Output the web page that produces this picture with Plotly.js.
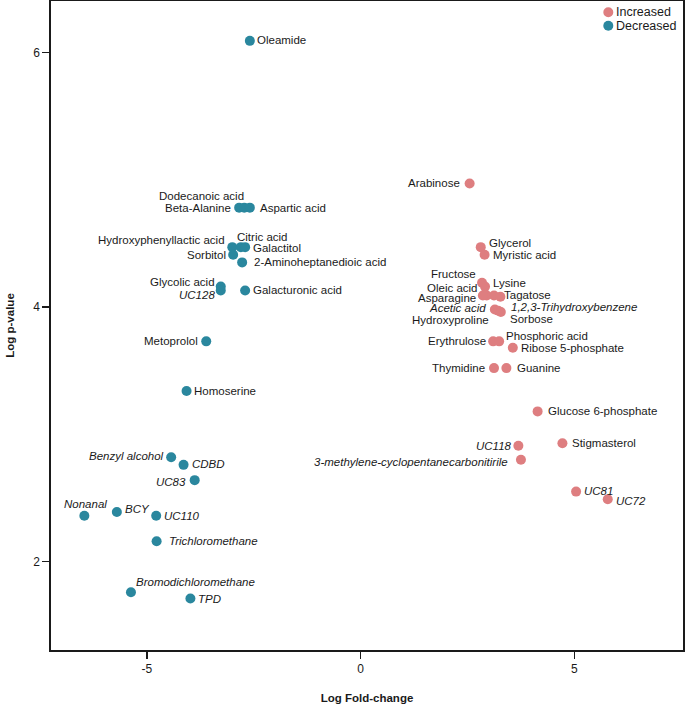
<!DOCTYPE html>
<html>
<head>
<meta charset="utf-8">
<script src="https://cdn.plot.ly/plotly-3.0.1.min.js"></script>
<style>
  html, body { margin: 0; padding: 0; background: #fff; }
  #chart { width: 685px; height: 704px; }
</style>
</head>
<body>
<div id="chart"></div>
<script>
// ---------- DATA ----------
const incNames = ["Arabinose", "Glycerol", "Myristic acid", "Fructose", "Lysine", "Oleic acid", "Asparagine",
  "1,2,3-Trihydroxybenzene", "Tagatose", "Acetic acid", "Hydroxyproline", "Sorbose", "Erythrulose",
  "Phosphoric acid", "Ribose 5-phosphate", "Thymidine", "Guanine", "Glucose 6-phosphate", "UC118",
  "Stigmasterol", "3-methylene-cyclopentanecarbonitirile", "UC81", "UC72"];
const incFC = [2.55, 2.81, 2.90, 2.84, 2.91, 2.95, 2.86, 3.12, 3.27, 3.14, 3.22, 3.28, 3.10,
  3.24, 3.56, 3.12, 3.41, 4.14, 3.69, 4.72, 3.75, 5.04, 5.78];
const incP = [4.97, 4.47, 4.41, 4.19, 4.16, 4.09, 4.09, 4.09, 4.08, 3.98, 3.97, 3.96, 3.73,
  3.73, 3.68, 3.52, 3.52, 3.18, 2.91, 2.93, 2.80, 2.55, 2.49];

const decNames = ["Oleamide", "Beta-Alanine", "Dodecanoic acid", "Aspartic acid", "Hydroxyphenyllactic acid",
  "Citric acid", "Galactitol", "Sorbitol", "2-Aminoheptanedioic acid", "Glycolic acid", "UC128",
  "Galacturonic acid", "Metoprolol", "Homoserine", "Benzyl alcohol", "CDBD", "UC83", "Nonanal", "BCY",
  "UC110", "Trichloromethane", "Bromodichloromethane", "TPD"];
const decFC = [-2.59, -2.84, -2.72, -2.59, -3.00, -2.80, -2.70, -2.98, -2.77, -3.27, -3.27,
  -2.70, -3.61, -4.07, -4.43, -4.14, -3.88, -6.46, -5.70, -4.78, -4.77, -5.37, -3.98];
const decP = [6.09, 4.78, 4.78, 4.78, 4.47, 4.47, 4.47, 4.41, 4.35, 4.16, 4.13,
  4.13, 3.73, 3.34, 2.82, 2.76, 2.64, 2.36, 2.39, 2.36, 2.16, 1.76, 1.71];

const seriesNames = ["Increased", "Decreased"];

const italicNames = ["UC128", "Benzyl alcohol", "CDBD", "UC83", "Nonanal", "BCY", "UC110", "Trichloromethane",
  "Bromodichloromethane", "TPD", "Acetic acid", "1,2,3-Trihydroxybenzene", "UC118",
  "3-methylene-cyclopentanecarbonitirile", "UC81", "UC72"];

// ---------- LABEL PLACEMENT (layout only: anchor, x/y pixel shift) ----------
const labelPos = {
  "Oleamide": ["left", 6, 1],
  "Beta-Alanine": ["right", -7, 0],
  "Dodecanoic acid": ["right", 1, 12],
  "Aspartic acid": ["left", 9, 0],
  "Hydroxyphenyllactic acid": ["right", -6, 7],
  "Citric acid": ["center", 21, 10.5],
  "Galactitol": ["left", 7, -0.5],
  "Sorbitol": ["right", -6, 0],
  "2-Aminoheptanedioic acid": ["left", 11, 0],
  "Glycolic acid": ["right", -5, 4.5],
  "UC128": ["right", -5, -4.5],
  "Galacturonic acid": ["left", 7, 0],
  "Metoprolol": ["right", -7, 0],
  "Homoserine": ["left", 6.5, 0],
  "Benzyl alcohol": ["right", -6.5, 1.5],
  "CDBD": ["left", 7, 1.3],
  "UC83": ["right", -8, -2],
  "Nonanal": ["center", 1.5, 12],
  "BCY": ["left", 7, 3.3],
  "UC110": ["left", 7, 0],
  "Trichloromethane": ["left", 11, 0],
  "Bromodichloromethane": ["left", 4.5, 10],
  "TPD": ["left", 6.5, 0],
  "Arabinose": ["right", -8.5, 0],
  "Glycerol": ["left", 7, 4],
  "Myristic acid": ["left", 7, 0],
  "Fructose": ["right", -5, 9],
  "Lysine": ["left", 6.5, 4],
  "Oleic acid": ["right", -8, 7.5],
  "Asparagine": ["right", -6, -2.8],
  "Tagatose": ["left", 2.5, 1.3],
  "1,2,3-Trihydroxybenzene": ["left", 16, -11.7],
  "Acetic acid": ["right", -8.3, 1.2],
  "Hydroxyproline": ["right", -8, -9.2],
  "Sorbose": ["left", 8, -6.6],
  "Erythrulose": ["right", -6.3, 0],
  "Phosphoric acid": ["left", 6, 5.7],
  "Ribose 5-phosphate": ["left", 7.5, 0],
  "Thymidine": ["right", -8.5, 0],
  "Guanine": ["left", 9.5, 0],
  "Glucose 6-phosphate": ["left", 9, 0],
  "UC118": ["right", -5.5, 0],
  "Stigmasterol": ["left", 9, 0],
  "3-methylene-cyclopentanecarbonitirile": ["right", -11.5, -2.3],
  "UC81": ["left", 6.5, 1],
  "UC72": ["left", 7, -1.4]
};

const FONT = "Liberation Sans, Arial, Helvetica, sans-serif";
const TXT = "#1a1a1a";
const colors = ["#DE7E80", "#2A879E"];

function makeAnnotations(names, xs, ys) {
  return names.map((n, i) => {
    const p = labelPos[n] || ["left", 7, 0];
    const txt = italicNames.includes(n) ? "<i>" + n + "</i>" : n;
    return {
      x: xs[i], y: ys[i], xref: "x", yref: "y",
      text: txt, showarrow: false,
      xanchor: p[0], yanchor: "middle",
      xshift: p[1], yshift: p[2], borderpad: 0,
      font: { family: FONT, size: 11.5, color: TXT }
    };
  });
}

const traces = [
  {
    type: "scatter", mode: "markers", name: seriesNames[0],
    x: incFC, y: incP, text: incNames,
    marker: { color: colors[0], size: 10, line: { width: 0 } },
    hoverinfo: "text+x+y", showlegend: false
  },
  {
    type: "scatter", mode: "markers", name: seriesNames[1],
    x: decFC, y: decP, text: decNames,
    marker: { color: colors[1], size: 10, line: { width: 0 } },
    hoverinfo: "text+x+y", showlegend: false
  }
];

// custom compact legend (top-right, inside plot)
const legX = 0.8818, legTextX = 0.8929;
const legY = [0.9826, 0.9619];
const legendShapes = seriesNames.map((s, i) => ({
  type: "circle", xref: "paper", yref: "paper",
  xsizemode: "pixel", ysizemode: "pixel",
  xanchor: legX, yanchor: legY[i],
  x0: -5, x1: 5, y0: -5, y1: 5,
  fillcolor: colors[i], line: { width: 0 }
}));
const legendTexts = seriesNames.map((s, i) => ({
  xref: "paper", yref: "paper", x: legTextX, y: legY[i],
  xanchor: "left", yanchor: "middle", showarrow: false, borderpad: 0,
  text: s, font: { family: FONT, size: 12.5, color: TXT }
}));

const axisCommon = {
  showgrid: false, zeroline: false,
  showline: true, linecolor: TXT, linewidth: 1.6, mirror: true,
  ticks: "outside", ticklen: 7, tickwidth: 1.5, tickcolor: TXT,
  tickfont: { family: FONT, size: 12, color: TXT }
};

const layout = {
  width: 685, height: 704,
  margin: { l: 51, r: 2, t: 1, b: 54 },
  paper_bgcolor: "#ffffff", plot_bgcolor: "#ffffff",
  font: { family: FONT, color: TXT },
  xaxis: Object.assign({}, axisCommon, {
    range: [-7.24, 7.54],
    tickvals: [-5, 0, 5], ticktext: ["-5", "0", "5"],
    title: { text: "<b>Log Fold-change</b>", font: { family: FONT, size: 11.5, color: TXT }, standoff: 22 }
  }),
  yaxis: Object.assign({}, axisCommon, {
    range: [1.306, 6.403],
    tickvals: [2, 4, 6], ticktext: ["2", "4", "6"],
    title: { text: "<b>Log p-value</b>", font: { family: FONT, size: 11.5, color: TXT }, standoff: 16 }
  }),
  showlegend: false,
  shapes: legendShapes,
  annotations: makeAnnotations(decNames, decFC, decP)
    .concat(makeAnnotations(incNames, incFC, incP))
    .concat(legendTexts)
};

Plotly.newPlot("chart", traces, layout, { displayModeBar: false, staticPlot: true });
</script>
</body>
</html>
